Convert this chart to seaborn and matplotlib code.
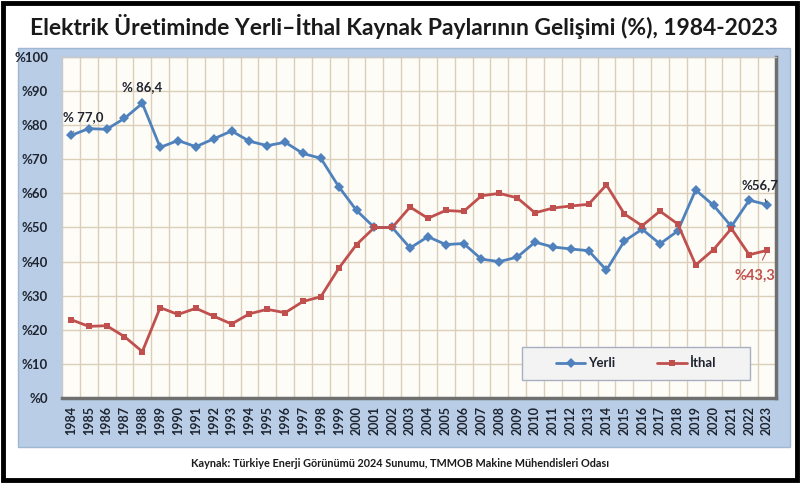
import matplotlib
matplotlib.use("Agg")
import matplotlib.pyplot as plt
import matplotlib.patches as mpatches
import seaborn as sns
import pandas as pd

years = list(range(1984, 2024))
yerli = [77.0, 79.0, 78.8, 82.0, 86.4, 73.5, 75.5, 73.7, 76.0, 78.3,
         75.3, 74.0, 75.0, 71.7, 70.3, 62.0, 55.0, 50.0, 50.0, 44.0,
         47.3, 45.0, 45.3, 40.7, 40.0, 41.3, 45.7, 44.3, 43.7, 43.2,
         37.5, 46.0, 49.5, 45.2, 49.0, 61.0, 56.5, 50.3, 58.0, 56.7]
ithal = [23.0, 21.0, 21.2, 18.0, 13.6, 26.5, 24.5, 26.3, 24.0, 21.7,
         24.7, 26.0, 25.0, 28.3, 29.7, 38.0, 45.0, 50.0, 50.0, 56.0,
         52.7, 55.0, 54.7, 59.3, 60.0, 58.7, 54.3, 55.7, 56.3, 56.8,
         62.5, 54.0, 50.5, 54.8, 51.0, 39.0, 43.5, 49.7, 42.0, 43.3]
series_names = ["Yerli", "İthal"]
y_ticks = list(range(0, 101, 10))
y_labels = ["%" + str(v) for v in y_ticks]
title = "Elektrik Üretiminde Yerli–İthal Kaynak Paylarının Gelişimi (%), 1984-2023"
source = "Kaynak: Türkiye Enerji Görünümü 2024 Sunumu, TMMOB Makine Mühendisleri Odası"

df = pd.DataFrame({"Yıl": years * 2,
                   "Pay": yerli + ithal,
                   "Kaynak": [series_names[0]] * len(years) + [series_names[1]] * len(years)})

sns.set_theme(style="white")
plt.rcParams["font.family"] = ["Lato", "DejaVu Sans"]

BLUE = "#4f81bd"
RED = "#c0504d"
TXT = "#1f2430"

fig = plt.figure(figsize=(8, 4.83), dpi=100)
fig.patch.set_facecolor("white")

# outer black frame
fig.add_artist(mpatches.Rectangle((0.004, 0.006), 0.992, 0.988, transform=fig.transFigure,
                                  fill=False, edgecolor="black", linewidth=3.5, zorder=0))
# blue panel
fig.add_artist(mpatches.Rectangle((0.0225, 0.0745), 0.965, 0.826, transform=fig.transFigure,
                                  facecolor="#b9cee6", edgecolor="#9fb7d3", linewidth=1.0, zorder=0))

ax = fig.add_axes([0.0775, 0.176, 0.8925, 0.706])
ax.set_facecolor("#fdfcf7")

sns.lineplot(data=df, x="Yıl", y="Pay", hue="Kaynak", style="Kaynak",
             palette={"Yerli": BLUE, "İthal": RED},
             markers={"Yerli": "D", "İthal": "s"}, dashes=False,
             markersize=5, linewidth=2.0, ax=ax, zorder=3,
             markeredgewidth=0)

ax.set_xlim(years[0] - 0.5, years[-1] + 0.5)
ax.set_ylim(0, 100)
ax.set_xticks(years)
ax.set_xticklabels([str(y) for y in years], rotation=90, fontsize=9,
                   fontweight="bold", color=TXT)
ax.set_xticks([y + 0.5 for y in years[:-1]], minor=True)
ax.set_yticks(y_ticks)
ax.set_yticklabels(y_labels, fontsize=9.5, fontweight="bold", color=TXT)
ax.tick_params(axis="x", which="major", length=0, pad=6)
ax.tick_params(axis="y", which="major", length=4, color="#8a8a8a", pad=6)
ax.tick_params(axis="x", which="minor", length=0)
ax.grid(False)
ax.grid(True, axis="y", which="major", color="#dccfb9", linewidth=1.0, zorder=0)
ax.grid(True, axis="x", which="minor", color="#dccfb9", linewidth=1.0, zorder=0)
ax.set_xlabel("")
ax.set_ylabel("")

for side in ["top", "left"]:
    ax.spines[side].set_color("#c8c8c8")
    ax.spines[side].set_linewidth(1.0)
for side in ["right", "bottom"]:
    ax.spines[side].set_color("#6f6f6f")
    ax.spines[side].set_linewidth(2.5)

# legend box + centered legend
ax.add_patch(mpatches.Rectangle((0.644, 0.053), 0.32, 0.097, transform=ax.transAxes,
                                facecolor="#f3f3f3", edgecolor="#a8b0c0", linewidth=1.0,
                                zorder=4))
handles, labels = ax.get_legend_handles_labels()
leg = ax.legend(handles, labels, ncol=2, loc="center",
                bbox_to_anchor=(0.804, 0.1015), fontsize=9.5, frameon=False,
                handlelength=2.2, handletextpad=0.2, columnspacing=3.2)
leg.set_zorder(5)
for t in leg.get_texts():
    t.set_color(TXT)
    t.set_fontweight("bold")

# annotations
ax.annotate("% 77,0", xy=(years[0], yerli[0]), xytext=(12, 18), textcoords="offset pixels",
            ha="center", va="center", fontsize=9.5, fontweight="bold", color=TXT,
            arrowprops=dict(arrowstyle="-", color="#7a7a7a", lw=0.8, shrinkA=4, shrinkB=3))
ax.annotate("% 86,4", xy=(years[4], yerli[4]), xytext=(0, 16), textcoords="offset pixels",
            ha="center", va="center", fontsize=9.5, fontweight="bold", color=TXT)
ax.annotate("%56,7", xy=(years[-1], yerli[-1]), xytext=(-7, 20), textcoords="offset pixels",
            ha="center", va="center", fontsize=9.5, fontweight="bold", color=TXT,
            arrowprops=dict(arrowstyle="-", color="#3a3a3a", lw=0.8, shrinkA=4, shrinkB=2))
ax.annotate("%43,3", xy=(years[-1], ithal[-1]), xytext=(-12, -25), textcoords="offset pixels",
            ha="center", va="center", fontsize=10.5, fontweight="bold", color=RED,
            arrowprops=dict(arrowstyle="-", color=RED, lw=0.8, shrinkA=4, shrinkB=2))

fig.text(0.505, 0.945, title, ha="center", va="center", fontsize=16.5,
         fontweight="bold", color="#1a1a1a")
fig.text(0.5, 0.041, source, ha="center", va="center", fontsize=7.8,
         fontweight="bold", color="#1a1a1a")

fig.savefig("out.png", dpi=100)
